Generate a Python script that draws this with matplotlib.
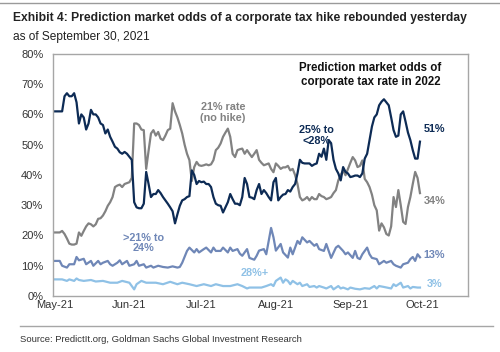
import matplotlib
matplotlib.use("Agg")
import matplotlib.pyplot as plt
import matplotlib.dates as mdates
from matplotlib.lines import Line2D
import pandas as pd

plt.rcParams["font.family"] = ["Liberation Sans", "DejaVu Sans"]

START = pd.Timestamp("2021-05-01")

# 25% to <28% (days since May 1, 2021 -> odds in %)
mid_days = list(range(0, 153))
mid_vals = [61, 61, 61, 61, 66, 67, 66, 66, 67, 64, 57, 60, 59, 55, 57, 61.5, 60, 60, 59, 57,
            56.5, 53.7, 55, 52.6, 51, 49.3, 48.7, 47.5, 47, 47.6, 47, 46, 45, 31, 29.3, 29, 29, 30.5, 41, 37,
            32.7, 33.7, 33.7, 35, 34, 32.7, 31.6, 30.5, 29.3, 28, 24, 27, 29.8, 31.6, 32, 32.7, 33, 41.5, 40, 37,
            38, 37.6, 37.8, 37, 37, 36, 32.7, 30.5, 30, 29.8, 27.6, 29.3, 31, 33.7, 32, 30.5, 30.5, 30, 32.7, 39,
            37, 32.7, 32.5, 32, 35, 37, 33.7, 35, 34, 32.7, 31.6, 37.6, 39, 31.6, 32.7, 33.5, 33.7, 35, 34.5, 36,
            37, 40.5, 45, 44, 43.8, 43.8, 43.8, 43, 43.5, 43.8, 47, 46, 48.7, 45, 51.5, 50.5, 45, 42, 40.5, 38.2,
            42.6, 41, 40.5, 39.3, 39.5, 39.8, 39.8, 39.3, 40.5, 45.4, 47, 51.5, 56, 59, 60, 63, 64.2, 65, 64, 63,
            59, 54.8, 52.6, 53, 60, 61, 57.6, 54, 51.5, 48.2, 45.4, 45.4, 51]

# 21% rate (no hike)
flat_days = list(range(0, 153))
flat_vals = [21, 21, 21, 21.5, 20.5, 19, 17.3, 17, 17, 17.3, 21, 19.9, 21.5, 23, 24, 23.7, 23, 23.7, 25.5, 25.7,
             26.6, 28, 29.8, 31, 32.7, 36, 36.5, 36.8, 36, 37, 37.3, 37.6, 39, 57, 57, 56.5, 55, 54.8, 42, 48,
             53.7, 54.8, 53, 54.2, 52, 51.5, 53, 54.8, 55.3, 63.7, 61, 59, 56.5, 53.7, 50, 47, 44.9, 38, 42.6, 44.3,
             43.2, 43, 43.2, 43.5, 43.2, 43.5, 44.9, 48.2, 49, 50.4, 52.6, 54, 55.3, 52.6, 47, 45.9, 48.2, 48.5, 48.7, 47,
             48.2, 47, 45.9, 47, 48.2, 45, 44, 43.2, 43.5, 43.8, 42, 40.9, 43.8, 43, 42, 42.5, 42.5, 43, 41.5, 42,
             40, 37, 32.7, 31.6, 32, 32.7, 31.6, 32.7, 32, 32, 33.7, 33, 32.7, 32, 32.3, 32.7, 34, 35, 38.2, 40,
             41.5, 39.9, 42, 44, 45.9, 44.8, 42.6, 43, 44.8, 38.7, 37.6, 36, 33.5, 30, 28.3, 21.6, 24, 22.7, 20.5, 20,
             23, 32.7, 29.4, 35, 30, 24.5, 23.8, 29.4, 32.7, 37, 41, 39, 34]

# >21% to 24%
low_days = [0, 2, 3, 5, 6, 8, 9, 10, 12, 13, 15, 16, 18, 19, 20, 22, 23, 24, 26, 27, 28, 30, 31, 33, 34, 35,
            37, 38, 40, 41, 43, 45, 47, 49, 51, 52, 53, 55, 56, 58, 59, 60, 62, 63, 65, 66, 67, 69, 70, 72, 73,
            74, 76, 77, 78, 80, 81, 83, 84, 85, 87, 88, 90, 91, 92, 94, 95, 97, 98, 99, 101, 102, 103, 105, 106,
            108, 109, 110, 112, 113, 114, 115, 117, 118, 120, 121, 122, 124, 125, 126, 127, 128, 130, 131, 132,
            134, 135, 137, 138, 140, 141, 142, 144, 145, 147, 148, 149, 150, 151, 152]
low_vals = [11.6, 11.6, 10, 9.4, 10.5, 10.5, 12.9, 11.8, 12.3, 10.5, 11.6, 10, 11.6, 10.5, 11, 11.6, 10.5, 10,
            11, 11.8, 10.5, 11.6, 10, 10.5, 11.6, 10, 10.5, 9.4, 10, 9.4, 10, 9.6, 9.4, 9.8, 9.4, 9.6, 11, 14.9,
            16, 14.4, 15.5, 14.4, 15.5, 16, 14.4, 16, 14.9, 14.9, 16, 14.4, 16, 14.9, 15.5, 14, 13.3, 15.5, 12.6,
            12, 13.3, 15, 15.5, 13.8, 22.5, 19.4, 15, 17.2, 14.4, 12.7, 16, 13.8, 18.2, 17.2, 19.4, 17.7, 18.2,
            16.6, 17.2, 15.5, 14.9, 17.2, 14.9, 12.6, 16, 16.6, 14.9, 13.8, 14.4, 12.6, 14.9, 12.6, 12.2, 13.8,
            16, 13.8, 12.6, 12.2, 10.5, 11.6, 11, 11.6, 10.5, 10, 9.4, 10.5, 11, 12.2, 12.9, 11.6, 13.8, 12.8]

# 28%+
high_days = [0, 2, 3, 5, 6, 8, 9, 10, 12, 15, 17, 20, 23, 26, 28, 31, 33, 34, 36, 38, 40, 42, 45, 48, 51, 53,
             56, 59, 62, 65, 67, 70, 73, 76, 78, 80, 81, 84, 86, 88, 90, 91, 92, 94, 95, 96, 97, 98, 99, 101,
             102, 103, 105, 106, 108, 109, 110, 112, 113, 115, 116, 118, 119, 120, 122, 123, 125, 127, 129, 131,
             133, 134, 135, 137, 140, 141, 142, 144, 145, 147, 148, 149, 151, 152]
high_vals = [5.5, 5.5, 5.5, 5, 5.5, 5, 5.8, 5.3, 5, 5.3, 4.8, 5, 4.4, 4.4, 5, 4.4, 2.2, 3.9, 5, 4.4, 4.4, 4.4,
             3.9, 4.7, 3.9, 4.4, 3.9, 3.3, 3.9, 3.3, 3.9, 3.3, 3.3, 3.9, 3.3, 2.5, 2.8, 2.8, 2.8, 3.3, 3.9, 3.3,
             5, 6.1, 4.4, 5.5, 5, 3.9, 5, 3.9, 4.4, 3.3, 3.9, 3, 3.3, 2.8, 3.3, 2.8, 2.5, 3.3, 2.2, 3.3, 2.5, 2.8,
             2.2, 2.8, 2.4, 2.2, 2.6, 2.4, 3.3, 2.5, 3.3, 3, 2.5, 3.9, 3.3, 4.4, 2.8, 3.3, 2.5, 3, 2.8, 2.8]

NAVY = "#0d2b55"
GREY = "#828282"
MIDBLUE = "#6f87b7"
LIGHTBLUE = "#8fc1e6"


def to_dates(days):
    return START + pd.to_timedelta(days, unit="D")


fig = plt.figure(figsize=(5.0, 3.52), dpi=100)
ax = fig.add_axes([0.106, 0.159, 0.830, 0.688])

ax.plot(to_dates(high_days), high_vals, color=LIGHTBLUE, lw=1.6)
ax.plot(to_dates(low_days), low_vals, color=MIDBLUE, lw=1.6)
ax.plot(to_dates(flat_days), flat_vals, color=GREY, lw=1.6)
ax.plot(to_dates(mid_days), mid_vals, color=NAVY, lw=1.6)

ax.set_xlim(START - pd.Timedelta(days=0.8), pd.Timestamp("2021-10-20"))
ax.set_ylim(0, 80)
ax.set_yticks(range(0, 81, 10))
ax.set_yticklabels([f"{v}%" for v in range(0, 81, 10)])
ax.xaxis.set_major_locator(mdates.MonthLocator())
ax.xaxis.set_major_formatter(mdates.DateFormatter("%b-%y"))
ax.tick_params(axis="both", length=0, labelsize=8, colors="#333333")
ax.tick_params(axis="x", pad=3)
ax.tick_params(axis="y", pad=7)
for sp in ax.spines.values():
    sp.set_color("#a6a6a6")
    sp.set_linewidth(1.0)

lbl = dict(fontsize=7.8, fontweight="bold", ha="center", va="center", linespacing=1.1)
ax.text(pd.Timestamp("2021-07-10"), 60.5, "21% rate\n(no hike)", color=GREY, **lbl)
ax.text(pd.Timestamp("2021-08-18"), 53, "25% to\n<28%", color=NAVY, **lbl)
ax.text(pd.Timestamp("2021-06-07"), 17.5, ">21% to\n24%", color=MIDBLUE, **lbl)
ax.text(pd.Timestamp("2021-07-23"), 7.5, "28%+", color=LIGHTBLUE, **lbl)
ax.text(pd.Timestamp("2021-10-06"), 55.1, "51%", color=NAVY, **lbl)
ax.text(pd.Timestamp("2021-10-06"), 31.3, "34%", color=GREY, **lbl)
ax.text(pd.Timestamp("2021-10-06"), 13.6, "13%", color=MIDBLUE, **lbl)
ax.text(pd.Timestamp("2021-10-06"), 4.1, "3%", color=LIGHTBLUE, **lbl)
ax.text(0.765, 0.913, "Prediction market odds of\ncorporate tax rate in 2022", transform=ax.transAxes,
        fontsize=8.3, fontweight="bold", ha="center", va="center", color="#111111", linespacing=1.25)

fig.text(0.026, 0.965, "Exhibit 4: Prediction market odds of a corporate tax hike rebounded yesterday",
         fontsize=8.7, fontweight="bold", va="top", color="#222222")
fig.text(0.026, 0.912, "as of September 30, 2021", fontsize=8.6, va="top", color="#222222")
fig.text(0.04, 0.035, "Source: PredictIt.org, Goldman Sachs Global Investment Research",
         fontsize=6.8, va="center", color="#333333")

fig.add_artist(Line2D([0.0, 1.0], [0.992, 0.992], transform=fig.transFigure, color="#9a9a9a", lw=1.0))
fig.add_artist(Line2D([0.04, 0.985], [0.074, 0.074], transform=fig.transFigure, color="#a6a6a6", lw=1.0))

fig.savefig("out.png", dpi=100)
